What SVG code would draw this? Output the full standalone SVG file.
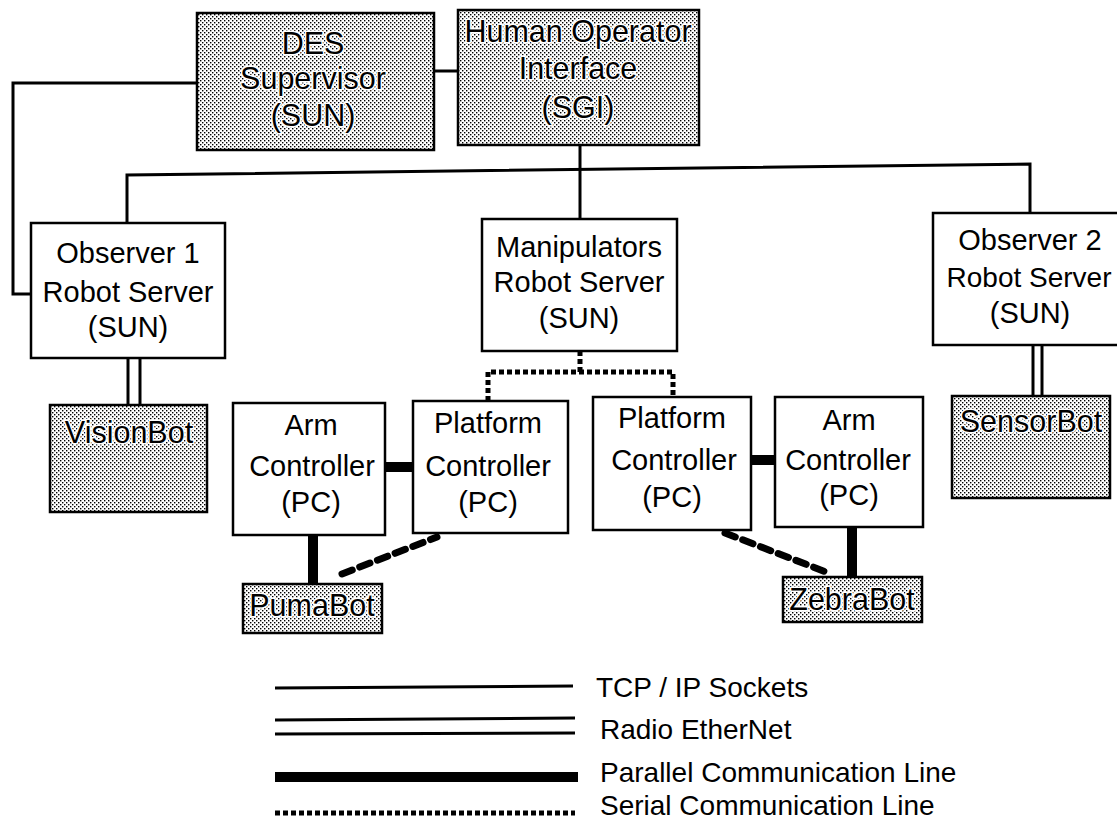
<svg xmlns="http://www.w3.org/2000/svg" width="1117" height="822" viewBox="0 0 1117 822">
<style>
.box{fill:#fff;stroke:#000;stroke-width:2.5}
.shade{fill:url(#dots);stroke:#000;stroke-width:2.5}
.t{font-family:"Liberation Sans",Arial,sans-serif;font-size:29px;fill:#000;text-anchor:middle}
.ts{font-family:"Liberation Sans",Arial,sans-serif;font-size:30.5px;fill:#000;text-anchor:middle;stroke:#fff;stroke-width:3;paint-order:stroke;stroke-linejoin:round}
.lg{font-family:"Liberation Sans",Arial,sans-serif;font-size:28px;fill:#000}
.tcp{fill:none;stroke:#000;stroke-width:3}
.par{fill:none;stroke:#000;stroke-width:10}
.ser{fill:none;stroke:#000;stroke-width:5;stroke-dasharray:5 3}
.rad{fill:none;stroke:#000;stroke-width:3}
.dash{fill:none;stroke:#000;stroke-width:7;stroke-dasharray:11 8;stroke-linecap:round}
</style>
<defs>
<pattern id="dots" width="4" height="4" patternUnits="userSpaceOnUse">
<rect width="4" height="4" fill="#fff"/>
<rect x="0" y="0" width="1.4" height="1.4" fill="#000"/>
<rect x="2" y="2" width="1.4" height="1.4" fill="#000"/>
</pattern>
</defs>
<rect width="1117" height="822" fill="#fff"/>

<g id="connectors">
<polyline class="tcp" points="197,83 13,83 13,294 31,294"/>
<line class="tcp" x1="434" y1="71" x2="458" y2="71"/>
<line class="tcp" x1="580" y1="145" x2="580" y2="170"/>
<polyline class="tcp" points="127,223 127,175 1030,164 1030,213"/>
<line class="tcp" x1="580" y1="170" x2="580" y2="219"/>
<line class="rad" x1="128" y1="358" x2="128" y2="405"/>
<line class="rad" x1="140" y1="358" x2="140" y2="405"/>
<line class="rad" x1="1033" y1="345" x2="1033" y2="396"/>
<line class="rad" x1="1042" y1="345" x2="1042" y2="396"/>
<polyline class="ser" points="580,351 580,372"/>
<polyline class="ser" points="488,401 488,372 673,372 673,397"/>
<line class="par" x1="385" y1="467" x2="413" y2="467"/>
<line class="par" x1="751" y1="460" x2="775" y2="460"/>
<line class="par" x1="313" y1="535" x2="313" y2="584"/>
<line class="par" x1="852" y1="527" x2="852" y2="577"/>
<line class="dash" x1="342" y1="574" x2="437" y2="537"/>
<line class="dash" x1="725" y1="533" x2="826" y2="572"/>
</g>

<g id="des">
<rect class="shade" x="197" y="13" width="237" height="137"/>
<text class="ts" x="313" y="54">DES</text>
<text class="ts" x="313" y="89">Supervisor</text>
<text class="ts" x="313" y="126">(SUN)</text>
</g>
<g id="hoi">
<rect class="shade" x="458" y="10" width="241" height="135"/>
<text class="ts" x="578" y="42">Human Operator</text>
<text class="ts" x="578" y="79">Interface</text>
<text class="ts" x="578" y="118">(SGI)</text>
</g>
<g id="observer1">
<rect class="box" x="31" y="223" width="194" height="135"/>
<text class="t" x="128" y="263">Observer 1</text>
<text class="t" x="128" y="302">Robot Server</text>
<text class="t" x="128" y="337">(SUN)</text>
</g>
<g id="manipulators">
<rect class="box" x="482" y="219" width="195" height="132"/>
<text class="t" x="579" y="257">Manipulators</text>
<text class="t" x="579" y="292">Robot Server</text>
<text class="t" x="579" y="328">(SUN)</text>
</g>
<g id="observer2">
<rect class="box" x="933" y="213" width="200" height="132"/>
<text class="t" x="1030" y="250">Observer 2</text>
<text class="t" x="1029" y="287" style="font-size:28px">Robot Server</text>
<text class="t" x="1030" y="323">(SUN)</text>
</g>
<g id="visionbot">
<rect class="shade" x="50" y="405" width="157" height="107"/>
<text class="ts" x="129" y="443">VisionBot</text>
</g>
<g id="sensorbot">
<rect class="shade" x="952" y="396" width="158" height="102"/>
<text class="ts" x="1031" y="432">SensorBot</text>
</g>
<g id="arm1">
<rect class="box" x="233" y="403" width="152" height="132"/>
<text class="t" x="311" y="435">Arm</text>
<text class="t" x="312" y="476">Controller</text>
<text class="t" x="311" y="512">(PC)</text>
</g>
<g id="platform1">
<rect class="box" x="413" y="401" width="155" height="132"/>
<text class="t" x="488" y="433">Platform</text>
<text class="t" x="488" y="476">Controller</text>
<text class="t" x="488" y="512">(PC)</text>
</g>
<g id="platform2">
<rect class="box" x="593" y="397" width="158" height="133"/>
<text class="t" x="672" y="428">Platform</text>
<text class="t" x="674" y="470">Controller</text>
<text class="t" x="672" y="507">(PC)</text>
</g>
<g id="arm2">
<rect class="box" x="775" y="397" width="148" height="130"/>
<text class="t" x="849" y="430">Arm</text>
<text class="t" x="848" y="470">Controller</text>
<text class="t" x="849" y="505">(PC)</text>
</g>
<g id="pumabot">
<rect class="shade" x="243" y="584" width="139" height="49"/>
<text class="ts" x="312" y="616">PumaBot</text>
</g>
<g id="zebrabot">
<rect class="shade" x="783" y="577" width="139" height="45"/>
<text class="ts" x="852" y="610">ZebraBot</text>
</g>

<g id="legend">
<line class="tcp" x1="275" y1="688" x2="573" y2="686"/>
<line class="rad" x1="275" y1="720" x2="575" y2="718"/>
<line class="rad" x1="275" y1="734" x2="575" y2="733"/>
<line class="par" x1="275" y1="777" x2="578" y2="777"/>
<line class="ser" x1="275" y1="813" x2="575" y2="813"/>
<text class="lg" x="596" y="697">TCP / IP Sockets</text>
<text class="lg" x="600" y="739">Radio EtherNet</text>
<text class="lg" x="600" y="782">Parallel Communication Line</text>
<text class="lg" x="600" y="815">Serial Communication Line</text>
</g>
</svg>
